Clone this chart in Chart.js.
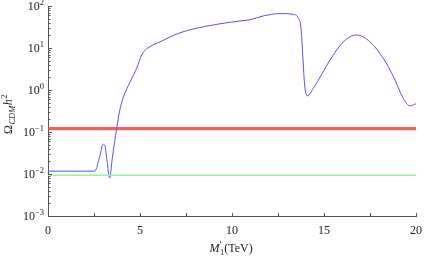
<!DOCTYPE html>
<html>
<head>
<meta charset="utf-8">
<script src="https://cdn.jsdelivr.net/npm/chart.js@4"></script>
<style>
  html, body { margin: 0; padding: 0; background: #fff; }
  #box { width: 424px; height: 256px; }
</style>
</head>
<body>
<div id="box"><canvas id="grafico" width="424" height="256"></canvas></div>
<script>
// valores
var massas = [0, 2.5, 2.6, 2.8, 3.0, 3.1, 3.2, 3.35, 3.5, 3.73, 3.9, 4.1, 4.46, 4.82, 5.09, 5.36,
    6.09, 7.17, 8.6, 10.43, 10.98, 11.7, 12.6, 13.33, 13.6, 13.75, 13.85, 13.95, 14.09, 14.42,
    15.33, 16.05, 16.78, 17.5, 18.22, 18.77, 19.31, 19.67, 20];
var omega = [0.0117, 0.0117, 0.0125, 0.025, 0.051, 0.045, 0.022, 0.008, 0.025, 0.12, 0.33, 0.68, 1.55, 3.3, 6.8, 9.5,
    14, 23, 33, 44, 47, 58, 66, 63, 52, 30, 6, 1.3, 0.72, 1.1,
    5.2, 14, 20.4, 14, 5.7, 2.1, 0.63, 0.42, 0.47];
var faixaX = [0, 20];
var omegaPlanck = 0.12;
var omegaInferior = 0.0094;
var expoentesY = [-3, -2, -1, 0, 1, 2];
var ticksX = [0, 2.5, 5, 7.5, 10, 12.5, 15, 17.5, 20];

const corEixo = '#555';
const fonteSerif = '"Liberation Serif", "DejaVu Serif", serif';

// desenha "10^n" com expoente elevado
function desenharPotencia(ctx, exp, xDir, yCentro) {
    const base = '10';
    const sup = exp < 0 ? '\u2212' + Math.abs(exp) : String(exp);
    ctx.font = '12px ' + fonteSerif;
    const wBase = ctx.measureText(base).width;
    ctx.font = '8.5px ' + fonteSerif;
    const wSup = ctx.measureText(sup).width;
    ctx.textBaseline = 'alphabetic';
    ctx.textAlign = 'left';
    ctx.fillStyle = '#222';
    ctx.font = '12px ' + fonteSerif;
    ctx.fillText(base, xDir - wSup - wBase, yCentro + 4);
    ctx.font = '8.5px ' + fonteSerif;
    ctx.fillText(sup, xDir - wSup, yCentro - 1);
}

const pluginEixos = {
    id: 'eixos',
    afterDraw(chart) {
        const ctx = chart.ctx;
        const area = chart.chartArea;
        const ys = chart.scales.y;
        const xs = chart.scales.x;
        ctx.save();
        ctx.strokeStyle = corEixo;
        ctx.lineWidth = 1;
        ctx.beginPath();
        // marcas do eixo y (maiores e menores)
        expoentesY.forEach(function (e) {
            const yPix = Math.round(ys.getPixelForValue(Math.pow(10, e))) + 0.5;
            ctx.moveTo(area.left, yPix);
            ctx.lineTo(area.left + 4, yPix);
            if (e < 2) {
                for (let k = 2; k <= 9; k++) {
                    const yMin = Math.round(ys.getPixelForValue(k * Math.pow(10, e))) + 0.5;
                    ctx.moveTo(area.left, yMin);
                    ctx.lineTo(area.left + 2.5, yMin);
                }
            }
        });
        // marcas do eixo x
        ticksX.forEach(function (v) {
            const xPix = Math.round(xs.getPixelForValue(v)) + 0.5;
            ctx.moveTo(xPix, area.bottom);
            ctx.lineTo(xPix, area.bottom - 3);
        });
        ctx.stroke();

        // rótulos do eixo y
        expoentesY.forEach(function (e) {
            desenharPotencia(ctx, e, area.left - 4, ys.getPixelForValue(Math.pow(10, e)));
        });

        // título do eixo y: Omega_CDM h^2
        ctx.save();
        ctx.translate(12, 114);
        ctx.rotate(-Math.PI / 2);
        const partesY = [
            { t: '\u03A9', f: '12px ' + fonteSerif, dy: 0 },
            { t: 'CDM', f: 'italic 8.5px ' + fonteSerif, dy: 2.5 },
            { t: 'h', f: 'italic 12px ' + fonteSerif, dy: 0 },
            { t: '2', f: '8.5px ' + fonteSerif, dy: -5 }
        ];
        let largura = 0;
        partesY.forEach(function (p) { ctx.font = p.f; largura += ctx.measureText(p.t).width + 0.5; });
        let cx = -largura / 2;
        ctx.fillStyle = '#222';
        ctx.textAlign = 'left';
        ctx.textBaseline = 'alphabetic';
        partesY.forEach(function (p) {
            ctx.font = p.f;
            ctx.fillText(p.t, cx, p.dy);
            cx += ctx.measureText(p.t).width + 0.5;
        });
        ctx.restore();

        // título do eixo x: M'_1 (TeV)
        const partesX = [
            { t: 'M', f: 'italic 12px ' + fonteSerif, dy: 0 },
            { t: '\u2032', f: '10px ' + fonteSerif, dy: -4 },
            { t: '1', f: '8.5px ' + fonteSerif, dy: 3 },
            { t: '(TeV)', f: '12px ' + fonteSerif, dy: 0 }
        ];
        let larguraX = 0;
        partesX.forEach(function (p) { ctx.font = p.f; larguraX += ctx.measureText(p.t).width; });
        let px = (area.left + area.right) / 2 - larguraX / 2;
        partesX.forEach(function (p, i) {
            ctx.font = p.f;
            let desloc = 0;
            if (i === 2) desloc = -ctx.measureText('\u2032').width * 0.9; // subscrito sob a linha
            ctx.fillText(p.t, px + desloc, 252 + p.dy);
            px += ctx.measureText(p.t).width + desloc;
        });
        ctx.restore();
    }
};

const contexto = document.getElementById('grafico').getContext('2d');
new Chart(contexto, {
    type: 'line',
    data: {
        datasets: [
            {
                data: faixaX.map(function (x) { return { x: x, y: omegaPlanck }; }),
                borderColor: 'rgba(236, 70, 70, 0.85)',
                borderWidth: 3.2,
                pointRadius: 0
            },
            {
                data: faixaX.map(function (x) { return { x: x, y: omegaInferior }; }),
                borderColor: 'rgb(160, 240, 160)',
                borderWidth: 1.5,
                pointRadius: 0
            },
            {
                data: massas.map(function (x, i) { return { x: x, y: omega[i] }; }),
                borderColor: 'rgb(80, 80, 255)',
                borderWidth: 1,
                pointRadius: 0,
                cubicInterpolationMode: 'monotone'
            }
        ]
    },
    options: {
        responsive: false,
        animation: false,
        layout: { padding: { top: 6, right: 8, left: 0, bottom: 0 } },
        plugins: { legend: { display: false }, tooltip: { enabled: false } },
        scales: {
            x: {
                type: 'linear',
                min: 0,
                max: 20,
                grid: { display: false, drawTicks: false },
                border: { display: true, color: corEixo, width: 1 },
                ticks: {
                    stepSize: 5,
                    padding: 8,
                    color: '#222',
                    font: { family: fonteSerif, size: 12 },
                    maxRotation: 0
                },
                afterFit: function (escala) {
                    escala.height = 40;
                    escala.paddingLeft = 0;
                    escala.paddingRight = 0;
                }
            },
            y: {
                type: 'logarithmic',
                min: 1e-3,
                max: 1e2,
                grid: { display: false, drawTicks: false },
                border: { display: true, color: corEixo, width: 1 },
                ticks: { display: false },
                afterFit: function (escala) { escala.width = 48; }
            }
        }
    },
    plugins: [pluginEixos]
});
</script>
</body>
</html>
